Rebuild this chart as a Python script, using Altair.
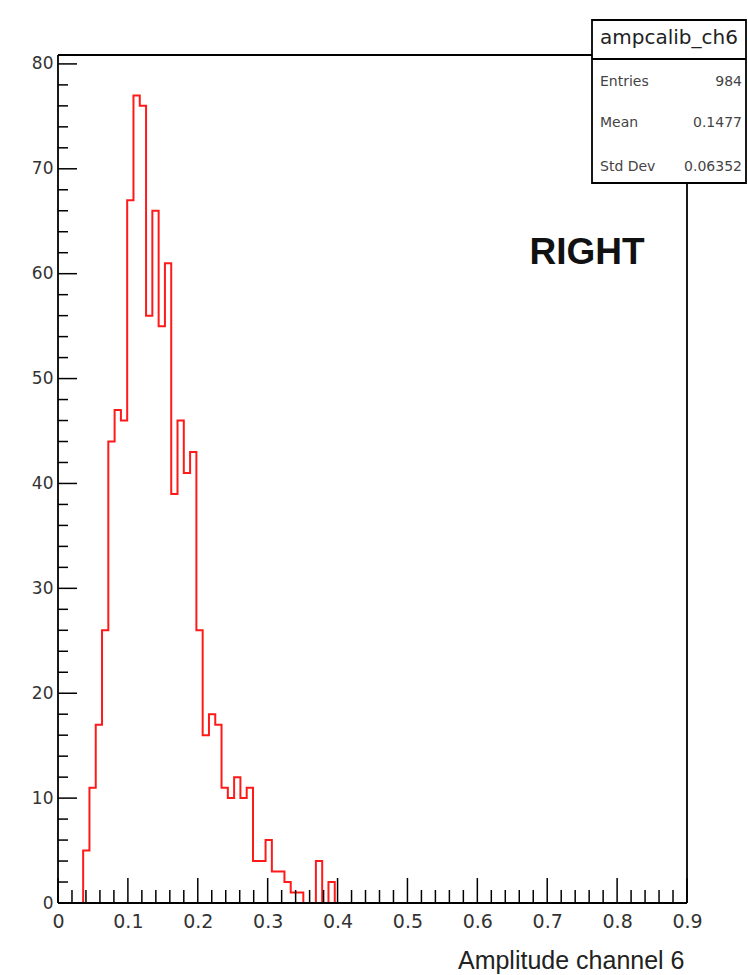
import altair as alt
import pandas as pd

# ---------------- data ----------------
bin_start = 0.036          # left edge of first filled bin
bin_width = 0.009          # 100 bins over 0..0.9
counts = [5, 11, 17, 26, 44, 47, 46, 67, 77, 76,
          56, 66, 55, 61, 39, 46, 41, 43, 26, 16,
          18, 17, 11, 10, 12, 10, 11, 4, 4, 6,
          3, 3, 2, 1, 1, 0, 0, 4, 0, 2]

x_major = [0, 0.1, 0.2, 0.3, 0.4, 0.5, 0.6, 0.7, 0.8, 0.9]
y_major = [0, 10, 20, 30, 40, 50, 60, 70, 80]
x_minor = [round(i * 0.02, 2) for i in range(46) if i % 5]
y_minor = [i * 2 for i in range(41) if i % 5]

stat_title = "ampcalib_ch6"
stat_labels = ["Entries", "Mean", "Std Dev"]
stat_values = ["984", "0.1477", "0.06352"]
label_text = "RIGHT"
x_title = "Amplitude channel 6"

# ---------------- geometry ----------------
W, H = 629, 848
XDOM = [0, 0.9]
YDOM = [0, 80.85]

# step outline vertices
pts = [(bin_start, 0.0)]
for i, c in enumerate(counts):
    lo = round(bin_start + i * bin_width, 6)
    hi = round(lo + bin_width, 6)
    pts.append((lo, c))
    pts.append((hi, c))
pts.append((pts[-1][0], 0.0))
hist_df = pd.DataFrame({"x": [p[0] for p in pts], "y": [p[1] for p in pts],
                        "o": list(range(len(pts)))})

xs = alt.Scale(domain=XDOM, nice=False, zero=False)
ys = alt.Scale(domain=YDOM, nice=False, zero=False)

LABEL_FONT = "DejaVu Sans"
RED = "#ff1a1a"

x_axis = alt.Axis(values=x_major, format=".1~f", title=x_title, grid=False,
                  domain=False, ticks=False, tickSize=0, labelPadding=9,
                  labelFont=LABEL_FONT, labelFontSize=19, labelColor="#333333",
                  labelFlush=False, labelOverlap=False,
                  titleFont="Liberation Sans", titleFontSize=25, titleFontWeight="normal",
                  titleColor="#222222", titleAlign="right", titleAnchor="end",
                  titleX=626, titleY=65, titleBaseline="alphabetic")
y_axis = alt.Axis(values=y_major, format="d", title=None, grid=False,
                  domain=False, ticks=False, tickSize=0, labelPadding=5,
                  labelFont=LABEL_FONT, labelFontSize=17, labelColor="#333333",
                  labelFlush=False, labelOverlap=False)

hist = alt.Chart(hist_df).mark_line(color=RED, strokeWidth=2, interpolate="linear").encode(
    x=alt.X("x:Q", scale=xs, axis=x_axis, title=x_title),
    y=alt.Y("y:Q", scale=ys, axis=y_axis, title=None),
    order="o:Q",
)

def vrules(vals, length):
    return alt.Chart(pd.DataFrame({"x": vals})).mark_rule(color="black", strokeWidth=1.5).encode(
        x=alt.X("x:Q", scale=xs, axis=x_axis, title=x_title),
        y=alt.value(H), y2=alt.value(H - length))

def hrules(vals, length):
    return alt.Chart(pd.DataFrame({"y": vals})).mark_rule(color="black", strokeWidth=1.5).encode(
        y=alt.Y("y:Q", scale=ys, axis=y_axis, title=None),
        x=alt.value(0), x2=alt.value(length))

one = pd.DataFrame({"a": [0]})

def seg(x1, y1, x2, y2, w=1.8):
    return alt.Chart(one).mark_rule(color="black", strokeWidth=w).encode(
        x=alt.value(x1), y=alt.value(y1), x2=alt.value(x2), y2=alt.value(y2))

frame = [seg(0, 0, W, 0), seg(0, H, W, H), seg(0, 0, 0, H), seg(W, 0, W, H)]

# stats box
BX1, BX2, BY1, BY2 = 534, 688, -35, 128
box = alt.Chart(one).mark_rect(fill="white", stroke="black", strokeWidth=1.8).encode(
    x=alt.value(BX1), x2=alt.value(BX2), y=alt.value(BY1), y2=alt.value(BY2))
sep = seg(BX1, 4, BX2, 4, 2.2)
title_txt = alt.Chart(pd.DataFrame({"t": [stat_title]})).mark_text(
    font=LABEL_FONT, fontSize=20, color="#222222", align="center", baseline="middle").encode(
    text="t:N", x=alt.value(611), y=alt.value(-17))
stat_layers = []
row_y = [27, 68, 112]
for lab, val, yy in zip(stat_labels, stat_values, row_y):
    stat_layers.append(alt.Chart(pd.DataFrame({"t": [lab]})).mark_text(
        font=LABEL_FONT, fontSize=14, color="#444444", align="left", baseline="middle").encode(
        text="t:N", x=alt.value(542), y=alt.value(yy)))
    stat_layers.append(alt.Chart(pd.DataFrame({"t": [val]})).mark_text(
        font=LABEL_FONT, fontSize=14, color="#444444", align="right", baseline="middle").encode(
        text="t:N", x=alt.value(684), y=alt.value(yy)))

right_txt = alt.Chart(pd.DataFrame({"t": [label_text]})).mark_text(
    font="Liberation Sans", fontSize=37, fontWeight="bold", color="#111111",
    align="center", baseline="alphabetic").encode(
    text="t:N", x=alt.value(529), y=alt.value(209))

chart = alt.layer(
    hist,
    vrules(x_major, 25), vrules(x_minor, 13),
    hrules(y_major, 19), hrules(y_minor, 10),
    *frame,
    box, sep, title_txt, *stat_layers,
    right_txt,
).properties(
    width=W, height=H,
    autosize=alt.AutoSizeParams(type="none"),
    padding={"left": 58, "top": 55, "right": 61, "bottom": 72},
    background="white",
).configure_view(stroke=None)

chart.save("out.html", embed_options={"renderer": "svg", "actions": False})
